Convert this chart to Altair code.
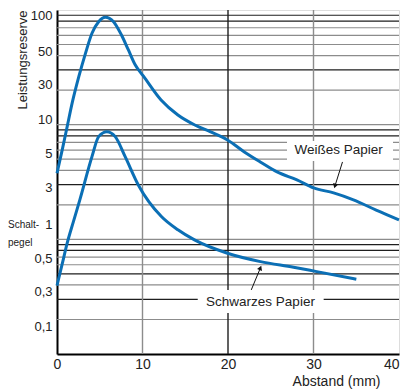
import altair as alt
import pandas as pd

# ---- data ----
white_mm = [0, 0.61, 1.19, 1.77, 2.55, 3.33, 4.09, 4.87, 5.65, 6.61, 7.54, 8.35, 9.16, 10.09,
            12.17, 14.14, 16.12, 17.97, 19.94, 21.91, 23.77, 25.74, 28.06, 30.03, 32.35, 34.67, 37.33, 40]
white_val = [3.77, 6.02, 9.61, 15.4, 26.2, 41.9, 62.7, 79.1, 86.4, 79.1, 60.5, 44.8, 33.1, 26.6,
             16.4, 12.15, 9.94, 8.64, 7.35, 5.78, 4.73, 3.87, 3.30, 2.81, 2.54, 2.21, 1.80, 1.48]
black_mm = [0, 0.61, 1.19, 1.91, 2.67, 4.09, 4.87, 5.83, 6.81, 7.97, 9.51, 12.21, 14.14, 16.08,
            19.94, 23.80, 27.67, 30.38, 35.01]
black_val = [0.395, 0.61, 0.925, 1.42, 2.21, 5.26, 7.86, 8.69, 7.86, 5.26, 2.98, 1.58, 1.21, 0.988,
             0.756, 0.639, 0.571, 0.523, 0.449]

# y tick labels (placed schematically, evenly spaced as in the reference)
ytick_vals = [88.7, 43.3, 22.2, 11.2, 5.55, 2.82, 1.34, 0.675, 0.35, 0.173]
ytick_text = ["100", "50", "30", "10", "5", "3", "1", "0,5", "0,3", "0,1"]
xtick_vals = [0, 10, 20, 30, 40]

# log grid lines and their shade
hgrid_vals = [90, 80, 70, 60, 50, 40, 30, 20, 10,
              9, 8, 7, 6, 5, 4, 3, 2, 1,
              0.9, 0.8, 0.7, 0.6, 0.5, 0.4, 0.3, 0.2]
hgrid_shade = ["dark", "dark", "light", "light", "light", "light", "dark", "light", "light",
               "dark", "dark", "light", "light", "light", "light", "dark", "light", "light",
               "dark", "dark", "light", "light", "dark", "light", "dark", "light"]
vgrid_vals = [10, 20, 30]
vgrid_shade = ["light", "dark", "light"]

# annotations
ann_text = ["Weißes Papier", "Schwarzes Papier"]
ann_x = [32.93, 23.80]
ann_y = [6.02, 0.286]
box_x1 = [26.9, 16.46]
box_x2 = [39.3, 31.19]
box_y1 = [7.2, 0.362]
box_y2 = [4.83, 0.228]
arrow_x1 = [33.39, 22.72]
arrow_y1 = [4.73, 0.362]
arrow_x2 = [32.51, 23.79]
arrow_y2 = [2.92, 0.563]
arrow_ang = [197, 22]

BLUE = "#0b6fb5"

curves = pd.concat([
    pd.DataFrame({"mm": white_mm, "val": white_val, "s": "Weißes Papier"}),
    pd.DataFrame({"mm": black_mm, "val": black_val, "s": "Schwarzes Papier"}),
])
hgrid = pd.DataFrame({"v": hgrid_vals, "shade": hgrid_shade})
vgrid = pd.DataFrame({"v": vgrid_vals, "shade": vgrid_shade})
ann = pd.DataFrame({"t": ann_text, "x": ann_x, "y": ann_y,
                    "bx1": box_x1, "bx2": box_x2, "by1": box_y1, "by2": box_y2,
                    "ax1": arrow_x1, "ay1": arrow_y1, "ax2": arrow_x2, "ay2": arrow_y2,
                    "ang": arrow_ang})

label_expr = " : ".join(
    f"abs(datum.value - {v}) < {v * 1e-4} ? '{t}'" for v, t in zip(ytick_vals, ytick_text)
) + " : ''"

xscale = alt.Scale(domain=[0, 40], nice=False, zero=False)
yscale = alt.Scale(type="log", domain=[0.1, 100], nice=False)
shade_scale = alt.Scale(domain=["dark", "light"], range=["#1e1e1e", "#8c8c8c"])

yaxis = alt.Axis(values=ytick_vals, labelExpr=label_expr, grid=False, ticks=False,
                 domainColor="#000000", domainWidth=2, labelFontSize=13, labelPadding=5,
                 labelColor="#222222", labelFlush=False, labelOverlap=False,
                 title="Leistungsreserve", titleFontSize=13, titleFontWeight="normal",
                 titleColor="#222222", titleAnchor="end", titleAngle=-90,
                 titleX=-35, titleY=0, titleAlign="right", titleBaseline="middle")
xaxis = alt.Axis(values=xtick_vals, grid=False, ticks=False, domainColor="#000000",
                 domainWidth=2, labelFontSize=14, labelPadding=3, labelFlush=False,
                 labelColor="#222222",
                 labelAlign={"condition": {"test": "datum.value == 40", "value": "right"},
                             "value": "center"},
                 title="Abstand (mm)", titleFontSize=14, titleFontWeight="normal",
                 titleColor="#222222", titleX=323, titleY=27, titleAlign="right",
                 titleBaseline="middle")

hrules = alt.Chart(hgrid).mark_rule(strokeWidth=1.2).encode(
    y=alt.Y("v:Q", scale=yscale, axis=yaxis),
    color=alt.Color("shade:N", scale=shade_scale, legend=None),
)
vrules = alt.Chart(vgrid).mark_rule(strokeWidth=1.4).encode(
    x=alt.X("v:Q", scale=xscale, axis=xaxis),
    color=alt.Color("shade:N", scale=shade_scale, legend=None),
)
boxes = alt.Chart(ann).mark_rect(color="white").encode(
    x=alt.X("bx1:Q", scale=xscale), x2="bx2:Q",
    y=alt.Y("by1:Q", scale=yscale), y2="by2:Q",
)
lines = alt.Chart(curves).mark_line(interpolate="monotone", strokeWidth=3, color=BLUE).encode(
    x=alt.X("mm:Q", scale=xscale),
    y=alt.Y("val:Q", scale=yscale),
    detail="s:N",
)
arrows = alt.Chart(ann).mark_rule(color="#111111", strokeWidth=1).encode(
    x=alt.X("ax1:Q", scale=xscale), x2="ax2:Q",
    y=alt.Y("ay1:Q", scale=yscale), y2="ay2:Q",
)
heads = alt.Chart(ann).mark_point(shape="triangle-up", filled=True, size=28, color="#111111",
                                  opacity=1).encode(
    x=alt.X("ax2:Q", scale=xscale),
    y=alt.Y("ay2:Q", scale=yscale),
    angle=alt.Angle("ang:Q", scale=None),
)
texts = alt.Chart(ann).mark_text(fontSize=13.5, color="#222222", font="Liberation Sans").encode(
    x=alt.X("x:Q", scale=xscale),
    y=alt.Y("y:Q", scale=yscale),
    text="t:N",
)
schalt = alt.Chart(pd.DataFrame({"t": ["Schalt-\npegel"]})).mark_text(
    align="left", baseline="middle", fontSize=10, lineHeight=18, lineBreak="\n",
    color="#222222", font="Liberation Sans"
).encode(x=alt.value(-49), y=alt.value(215), text="t:N")

chart = alt.layer(hrules, vrules, boxes, lines, arrows, heads, texts, schalt).properties(
    width=342, height=344,
    autosize=alt.AutoSizeParams(type="none"),
    padding={"left": 49, "top": 2, "right": 1, "bottom": 38},
).configure_view(stroke="#555555", strokeWidth=1.5).configure(font="Liberation Sans")

chart.save("out.html", embed_options={"renderer": "svg", "actions": False})
